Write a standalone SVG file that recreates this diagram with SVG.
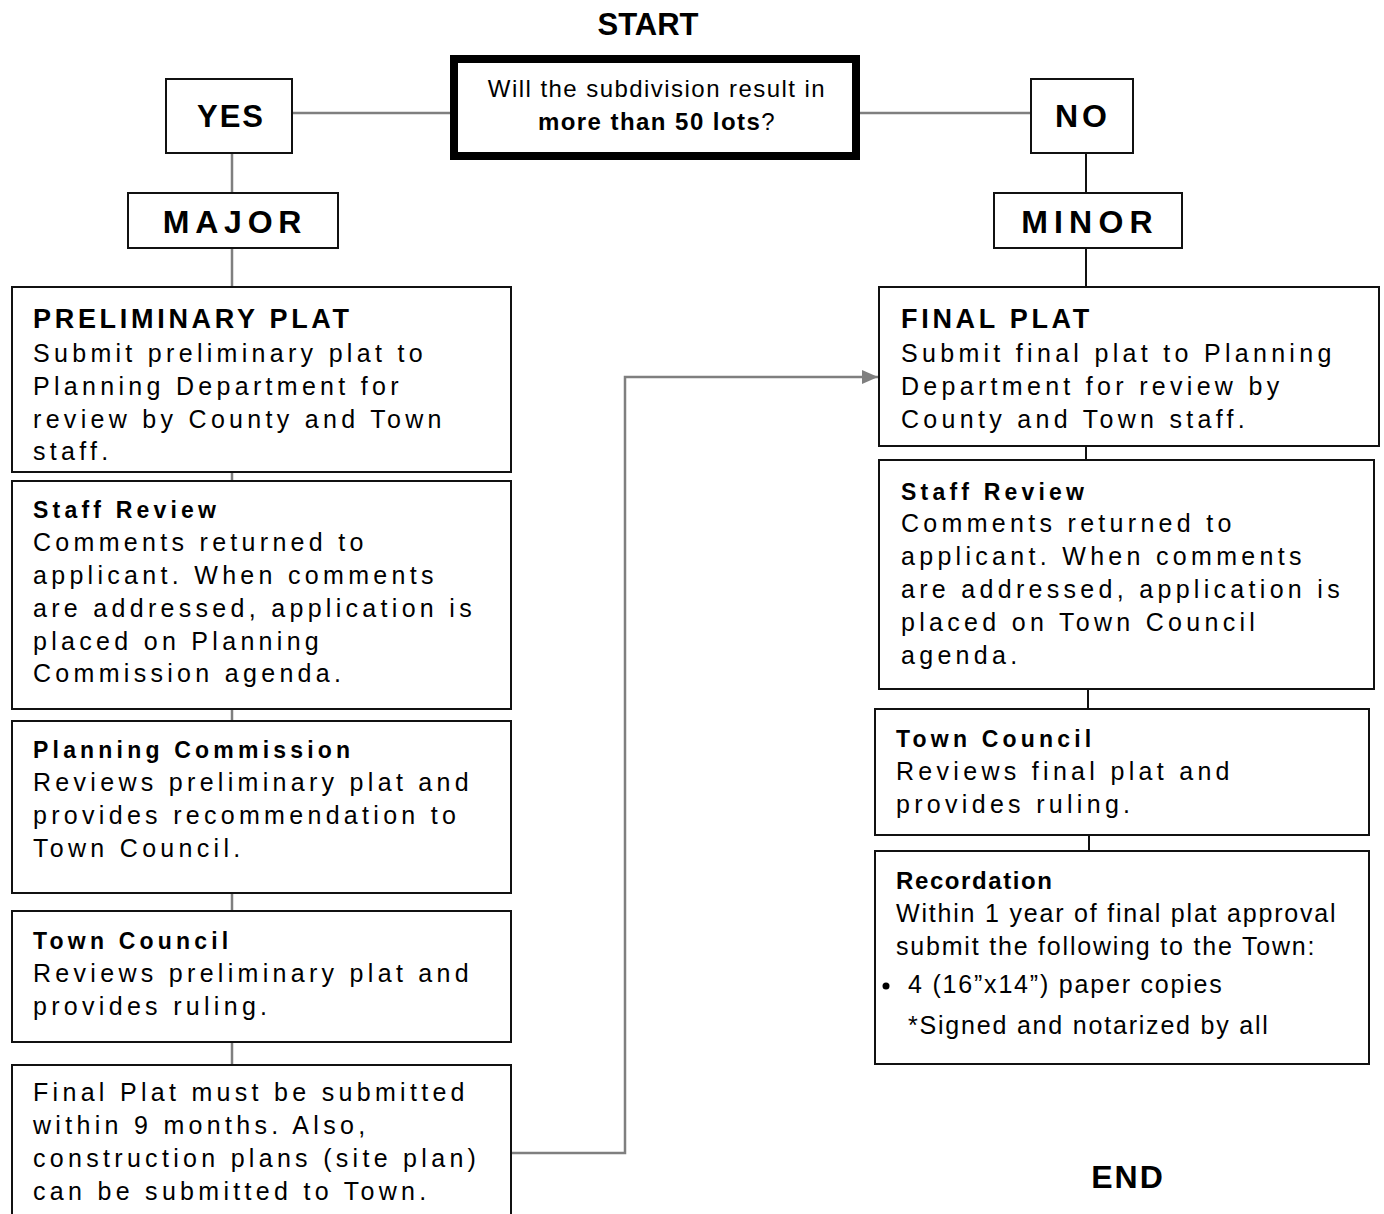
<svg xmlns="http://www.w3.org/2000/svg" width="1384" height="1214" viewBox="0 0 1384 1214">
<style>
  .box{fill:#fff;stroke:#111;stroke-width:2}
  .thick{fill:#fff;stroke:#000;stroke-width:8}
  .con{fill:none;stroke:#7f7f7f;stroke-width:2.5}
  .conk{fill:none;stroke:#111;stroke-width:2}
  .hd{font-family:"Liberation Sans",Arial,sans-serif;font-weight:bold;fill:#000}
  .tt{font-family:"Liberation Sans",Arial,sans-serif;font-weight:bold;font-size:27px;letter-spacing:3.7px;fill:#000}
  .st{font-family:"Liberation Sans",Arial,sans-serif;font-weight:bold;font-size:23px;letter-spacing:4.2px;fill:#000}
  .bd{font-family:"Liberation Sans",Arial,sans-serif;font-size:25px;letter-spacing:4.3px;fill:#000}
  .pl{font-family:"Liberation Sans",Arial,sans-serif;font-size:25px;letter-spacing:1.8px;fill:#000}
  .q{font-family:"Liberation Sans",Arial,sans-serif;font-size:24px;letter-spacing:1.45px;fill:#000}
</style>
<defs>
  <marker id="arr" markerWidth="16" markerHeight="14" refX="16" refY="7" orient="auto" markerUnits="userSpaceOnUse">
    <path d="M0,0 L16,7 L0,14 z" fill="#7f7f7f"/>
  </marker>
</defs>
<rect width="1384" height="1214" fill="#fff"/>

<g id="connectors">
  <line class="con" x1="292" y1="113" x2="452" y2="113"/>
  <line class="con" x1="860" y1="113" x2="1030" y2="113"/>
  <line class="con" x1="232" y1="153" x2="232" y2="193"/>
  <line class="con" x1="232" y1="248" x2="232" y2="287"/>
  <line class="con" x1="232" y1="472" x2="232" y2="481"/>
  <line class="con" x1="232" y1="709" x2="232" y2="721"/>
  <line class="con" x1="232" y1="893" x2="232" y2="911"/>
  <line class="con" x1="232" y1="1042" x2="232" y2="1065"/>
  <polyline class="con" points="511,1153 625,1153 625,377 878,377" marker-end="url(#arr)"/>
  <line class="conk" x1="1086" y1="153" x2="1086" y2="193"/>
  <line class="conk" x1="1086" y1="248" x2="1086" y2="287"/>
  <line class="conk" x1="1086" y1="446" x2="1086" y2="460"/>
  <line class="conk" x1="1088" y1="689" x2="1088" y2="709"/>
  <line class="conk" x1="1089" y1="835" x2="1089" y2="851"/>
</g>

<g id="start"><text class="hd" x="648" y="35" font-size="31" text-anchor="middle">START</text></g>

<g id="question">
  <rect class="thick" x="454" y="59" width="402" height="97"/>
  <text class="q" x="657" y="97" text-anchor="middle">Will the subdivision result in</text>
  <text class="q" x="657" y="130" text-anchor="middle"><tspan font-weight="bold">more than 50 lots</tspan>?</text>
</g>

<g id="yes">
  <rect class="box" x="166" y="79" width="126" height="74"/>
  <text class="hd" x="231" y="127" font-size="31" letter-spacing="2" text-anchor="middle">YES</text>
</g>
<g id="no">
  <rect class="box" x="1031" y="79" width="102" height="74"/>
  <text class="hd" x="1083" y="127" font-size="32" letter-spacing="4" text-anchor="middle">NO</text>
</g>
<g id="major">
  <rect class="box" x="128" y="193" width="210" height="55"/>
  <text class="hd" x="235" y="233" font-size="32" letter-spacing="5.8" text-anchor="middle">MAJOR</text>
</g>
<g id="minor">
  <rect class="box" x="994" y="193" width="188" height="55"/>
  <text class="hd" x="1090" y="233" font-size="32" letter-spacing="6.2" text-anchor="middle">MINOR</text>
</g>

<g id="preliminary-plat">
  <rect class="box" x="12" y="287" width="499" height="185"/>
  <text class="tt" x="33" y="328">PRELIMINARY PLAT</text>
  <text class="bd" x="33" y="362">Submit preliminary plat to</text>
  <text class="bd" x="33" y="395">Planning Department for</text>
  <text class="bd" x="33" y="428">review by County and Town</text>
  <text class="bd" x="33" y="460">staff.</text>
</g>

<g id="staff-review-major">
  <rect class="box" x="12" y="481" width="499" height="228"/>
  <text class="st" x="33" y="518">Staff Review</text>
  <text class="bd" x="33" y="551">Comments returned to</text>
  <text class="bd" x="33" y="584">applicant. When comments</text>
  <text class="bd" x="33" y="617">are addressed, application is</text>
  <text class="bd" x="33" y="650">placed on Planning</text>
  <text class="bd" x="33" y="682">Commission agenda.</text>
</g>

<g id="planning-commission">
  <rect class="box" x="12" y="721" width="499" height="172"/>
  <text class="st" x="33" y="758">Planning Commission</text>
  <text class="bd" x="33" y="791">Reviews preliminary plat and</text>
  <text class="bd" x="33" y="824">provides recommendation to</text>
  <text class="bd" x="33" y="857">Town Council.</text>
</g>

<g id="town-council-major">
  <rect class="box" x="12" y="911" width="499" height="131"/>
  <text class="st" x="33" y="949">Town Council</text>
  <text class="bd" x="33" y="982">Reviews preliminary plat and</text>
  <text class="bd" x="33" y="1015">provides ruling.</text>
</g>

<g id="final-plat-deadline">
  <rect class="box" x="12" y="1065" width="499" height="160"/>
  <text class="bd" x="33" y="1101">Final Plat must be submitted</text>
  <text class="bd" x="33" y="1134">within 9 months. Also,</text>
  <text class="bd" x="33" y="1167">construction plans (site plan)</text>
  <text class="bd" x="33" y="1200">can be submitted to Town.</text>
</g>

<g id="final-plat">
  <rect class="box" x="879" y="287" width="500" height="159"/>
  <text class="tt" x="901" y="328">FINAL PLAT</text>
  <text class="bd" x="901" y="362">Submit final plat to Planning</text>
  <text class="bd" x="901" y="395">Department for review by</text>
  <text class="bd" x="901" y="428">County and Town staff.</text>
</g>

<g id="staff-review-minor">
  <rect class="box" x="879" y="460" width="495" height="229"/>
  <text class="st" x="901" y="500">Staff Review</text>
  <text class="bd" x="901" y="532">Comments returned to</text>
  <text class="bd" x="901" y="565">applicant. When comments</text>
  <text class="bd" x="901" y="598">are addressed, application is</text>
  <text class="bd" x="901" y="631">placed on Town Council</text>
  <text class="bd" x="901" y="664">agenda.</text>
</g>

<g id="town-council-minor">
  <rect class="box" x="875" y="709" width="494" height="126"/>
  <text class="st" x="896" y="747">Town Council</text>
  <text class="bd" x="896" y="780">Reviews final plat and</text>
  <text class="bd" x="896" y="813">provides ruling.</text>
</g>

<g id="recordation">
  <rect class="box" x="875" y="851" width="494" height="213"/>
  <text class="hd" x="896" y="889" font-size="24" letter-spacing="1.6">Recordation</text>
  <text class="pl" x="896" y="922">Within 1 year of final plat approval</text>
  <text class="pl" x="896" y="955">submit the following to the Town:</text>
  <circle cx="886" cy="986" r="3.5" fill="#000"/>
  <text class="pl" x="908" y="993">4 (16”x14”) paper copies</text>
  <text class="pl" x="908" y="1034">*Signed and notarized by all</text>
</g>

<g id="end"><text class="hd" x="1128" y="1188" font-size="32" letter-spacing="2" text-anchor="middle">END</text></g>
</svg>
